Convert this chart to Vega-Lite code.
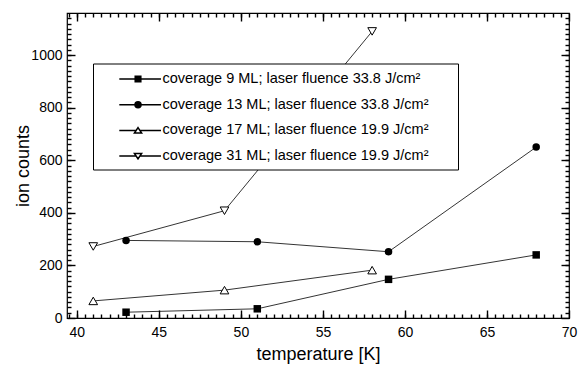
{
  "$schema": "https://vega.github.io/schema/vega-lite/v6.json",
  "width": 502,
  "height": 305,
  "autosize": {"type": "none"},
  "padding": {"left": 67, "top": 13, "right": 9, "bottom": 48},
  "background": "white",
  "config": {
    "font": "Liberation Sans",
    "view": {"stroke": "black", "strokeWidth": 1.2},
    "axis": {
      "grid": false,
      "domain": false,
      "ticks": true,
      "zindex": 1,
      "tickColor": "black",
      "tickOpacity": 1,
      "tickWidth": 1.4,
      "labelColor": "black",
      "titleColor": "black",
      "labelFont": "Liberation Sans",
      "titleFont": "Liberation Sans",
      "labelFontSize": 14,
      "titleFontSize": 18,
      "titleFontWeight": "normal"
    },
    "legend": {
      "labelFont": "Liberation Sans",
      "labelFontSize": 14.5,
      "labelColor": "black"
    }
  },
  "data": {
    "values": [
      {"series": "coverage 9 ML; laser fluence 33.8 J/cm²", "temperature": 43, "counts": 22},
      {"series": "coverage 9 ML; laser fluence 33.8 J/cm²", "temperature": 51, "counts": 35},
      {"series": "coverage 9 ML; laser fluence 33.8 J/cm²", "temperature": 59, "counts": 147},
      {"series": "coverage 9 ML; laser fluence 33.8 J/cm²", "temperature": 68, "counts": 240},
      {"series": "coverage 13 ML; laser fluence 33.8 J/cm²", "temperature": 43, "counts": 295},
      {"series": "coverage 13 ML; laser fluence 33.8 J/cm²", "temperature": 51, "counts": 290},
      {"series": "coverage 13 ML; laser fluence 33.8 J/cm²", "temperature": 59, "counts": 252},
      {"series": "coverage 13 ML; laser fluence 33.8 J/cm²", "temperature": 68, "counts": 650},
      {"series": "coverage 17 ML; laser fluence 19.9 J/cm²", "temperature": 41, "counts": 65},
      {"series": "coverage 17 ML; laser fluence 19.9 J/cm²", "temperature": 49, "counts": 106},
      {"series": "coverage 17 ML; laser fluence 19.9 J/cm²", "temperature": 58, "counts": 182},
      {"series": "coverage 31 ML; laser fluence 19.9 J/cm²", "temperature": 41, "counts": 272},
      {"series": "coverage 31 ML; laser fluence 19.9 J/cm²", "temperature": 49, "counts": 408},
      {"series": "coverage 31 ML; laser fluence 19.9 J/cm²", "temperature": 58, "counts": 1090}
    ]
  },
  "layer": [
    {
      "mark": {"type": "line", "color": "black", "strokeWidth": 0.8},
      "encoding": {
        "x": {"field": "temperature", "type": "quantitative",
              "scale": {"domain": [39.4, 70], "nice": false, "zero": false},
              "axis": {"orient": "bottom", "title": "temperature [K]", "values": [40, 45, 50, 55, 60, 65, 70],
                       "offset": -8, "tickSize": 8, "tickColor": "black", "labelPadding": 7, "titlePadding": 6, "labelFlush": false}},
        "y": {"field": "counts", "type": "quantitative",
              "scale": {"domain": [0, 1160], "nice": false, "zero": false},
              "axis": {"orient": "left", "title": "ion counts", "values": [0, 200, 400, 600, 800, 1000], "format": "d",
                       "offset": -8, "tickSize": 8, "tickColor": "black", "labelPadding": 5, "titlePadding": -2, "labelFlush": false}},
        "detail": {"field": "series", "type": "nominal"}
      }
    },
    {
      "mark": {"type": "point", "opacity": 0, "stroke": "black"},
      "encoding": {
        "x": {"field": "temperature", "type": "quantitative",
              "scale": {"domain": [39.4, 70], "nice": false, "zero": false},
              "axis": {"orient": "top", "title": null, "labels": false, "values": [40, 45, 50, 55, 60, 65, 70], "offset": -8, "tickSize": 8, "tickColor": "black"}},
        "y": {"field": "counts", "type": "quantitative",
              "scale": {"domain": [0, 1160], "nice": false, "zero": false},
              "axis": {"orient": "right", "title": null, "labels": false, "values": [0, 200, 400, 600, 800, 1000], "offset": -8, "tickSize": 8, "tickColor": "black"}},
        "shape": {"field": "series", "type": "nominal", "sort": null,
                  "scale": {"range": [
                    "M1.35,0H6.56M3.34,-0.35H4.04V0.35H3.34ZM3.34,-0.25H4.04M3.34,-0.15H4.04M3.34,-0.05H4.04M3.34,0.05H4.04M3.34,0.15H4.04M3.34,0.25H4.04M42.5,0",
                    "M1.35,0H6.56M4.065,0A0.375,0.375,0,1,1,3.315,0A0.375,0.375,0,1,1,4.065,0ZM3.555,-0.35H3.825M3.41,-0.25H3.97M3.346,-0.15H4.034M3.318,-0.05H4.062M3.318,0.05H4.062M3.346,0.15H4.034M3.41,0.25H3.97M3.555,0.35H3.825M42.5,0",
                    "M1.35,0H3.465M3.915,0H6.56M3.69,-0.34L4.14,0.34H3.24ZM42.5,0",
                    "M1.35,0H3.465M3.915,0H6.56M3.69,0.34L4.14,-0.34H3.24ZM42.5,0"
                  ]},
                  "legend": {"title": null, "orient": "none", "legendX": 26, "legendY": 50.5, "padding": 6.5,
                             "strokeColor": "black", "fillColor": "white", "symbolSize": 256, "labelOffset": 45,
                             "rowPadding": 9.7, "labelLimit": 400,
                             "encode": {
                               "symbols": {"update": {"stroke": {"value": "black"}, "strokeWidth": {"value": 0.8}, "opacity": {"value": 1},
                                                      "fill": {"value": "white"}, "fillOpacity": {"value": 1}, "strokeOpacity": {"value": 1}}}
                             }}}
      }
    },
    {
      "transform": [{"filter": "datum.series == 'coverage 9 ML; laser fluence 33.8 J/cm²'"}],
      "mark": {"type": "point", "shape": "square", "filled": true, "color": "black", "size": 56, "opacity": 1},
      "encoding": {
        "x": {"field": "temperature", "type": "quantitative",
              "scale": {"domain": [39.4, 70], "nice": false, "zero": false},
              "axis": {"orient": "bottom", "title": null, "labels": false,
                       "values": [39.5, 40, 40.5, 41, 41.5, 42, 42.5, 43, 43.5, 44, 44.5, 45, 45.5, 46, 46.5, 47, 47.5, 48, 48.5, 49, 49.5, 50, 50.5, 51, 51.5, 52, 52.5, 53, 53.5, 54, 54.5, 55, 55.5, 56, 56.5, 57, 57.5, 58, 58.5, 59, 59.5, 60, 60.5, 61, 61.5, 62, 62.5, 63, 63.5, 64, 64.5, 65, 65.5, 66, 66.5, 67, 67.5, 68, 68.5, 69, 69.5],
                       "offset": -4, "tickSize": 4, "tickColor": "black"}},
        "y": {"field": "counts", "type": "quantitative",
              "scale": {"domain": [0, 1160], "nice": false, "zero": false},
              "axis": {"orient": "left", "title": null, "labels": false,
                       "values": [20, 40, 60, 80, 100, 120, 140, 160, 180, 200, 220, 240, 260, 280, 300, 320, 340, 360, 380, 400, 420, 440, 460, 480, 500, 520, 540, 560, 580, 600, 620, 640, 660, 680, 700, 720, 740, 760, 780, 800, 820, 840, 860, 880, 900, 920, 940, 960, 980, 1000, 1020, 1040, 1060, 1080, 1100, 1120, 1140],
                       "offset": -4, "tickSize": 4, "tickColor": "black"}}
      }
    },
    {
      "transform": [{"filter": "datum.series == 'coverage 13 ML; laser fluence 33.8 J/cm²'"}],
      "mark": {"type": "point", "shape": "circle", "filled": true, "color": "black", "size": 56, "opacity": 1},
      "encoding": {
        "x": {"field": "temperature", "type": "quantitative",
              "scale": {"domain": [39.4, 70], "nice": false, "zero": false},
              "axis": {"orient": "top", "title": null, "labels": false,
                       "values": [39.5, 40, 40.5, 41, 41.5, 42, 42.5, 43, 43.5, 44, 44.5, 45, 45.5, 46, 46.5, 47, 47.5, 48, 48.5, 49, 49.5, 50, 50.5, 51, 51.5, 52, 52.5, 53, 53.5, 54, 54.5, 55, 55.5, 56, 56.5, 57, 57.5, 58, 58.5, 59, 59.5, 60, 60.5, 61, 61.5, 62, 62.5, 63, 63.5, 64, 64.5, 65, 65.5, 66, 66.5, 67, 67.5, 68, 68.5, 69, 69.5],
                       "offset": -4, "tickSize": 4, "tickColor": "black"}},
        "y": {"field": "counts", "type": "quantitative",
              "scale": {"domain": [0, 1160], "nice": false, "zero": false},
              "axis": {"orient": "right", "title": null, "labels": false,
                       "values": [20, 40, 60, 80, 100, 120, 140, 160, 180, 200, 220, 240, 260, 280, 300, 320, 340, 360, 380, 400, 420, 440, 460, 480, 500, 520, 540, 560, 580, 600, 620, 640, 660, 680, 700, 720, 740, 760, 780, 800, 820, 840, 860, 880, 900, 920, 940, 960, 980, 1000, 1020, 1040, 1060, 1080, 1100, 1120, 1140],
                       "offset": -4, "tickSize": 4, "tickColor": "black"}}
      }
    },
    {
      "transform": [{"filter": "datum.series == 'coverage 17 ML; laser fluence 19.9 J/cm²'"}],
      "mark": {"type": "point", "shape": "triangle-up", "filled": true, "fill": "white", "stroke": "black", "strokeWidth": 1, "size": 75, "opacity": 1},
      "encoding": {
        "x": {"field": "temperature", "type": "quantitative",
              "scale": {"domain": [39.4, 70], "nice": false, "zero": false}, "axis": null},
        "y": {"field": "counts", "type": "quantitative",
              "scale": {"domain": [0, 1160], "nice": false, "zero": false}, "axis": null}
      }
    },
    {
      "transform": [{"filter": "datum.series == 'coverage 31 ML; laser fluence 19.9 J/cm²'"}],
      "mark": {"type": "point", "shape": "triangle-down", "filled": true, "fill": "white", "stroke": "black", "strokeWidth": 1, "size": 75, "opacity": 1},
      "encoding": {
        "x": {"field": "temperature", "type": "quantitative",
              "scale": {"domain": [39.4, 70], "nice": false, "zero": false}, "axis": null},
        "y": {"field": "counts", "type": "quantitative",
              "scale": {"domain": [0, 1160], "nice": false, "zero": false}, "axis": null}
      }
    }
  ],
  "resolve": {"axis": {"x": "independent", "y": "independent"}}
}
